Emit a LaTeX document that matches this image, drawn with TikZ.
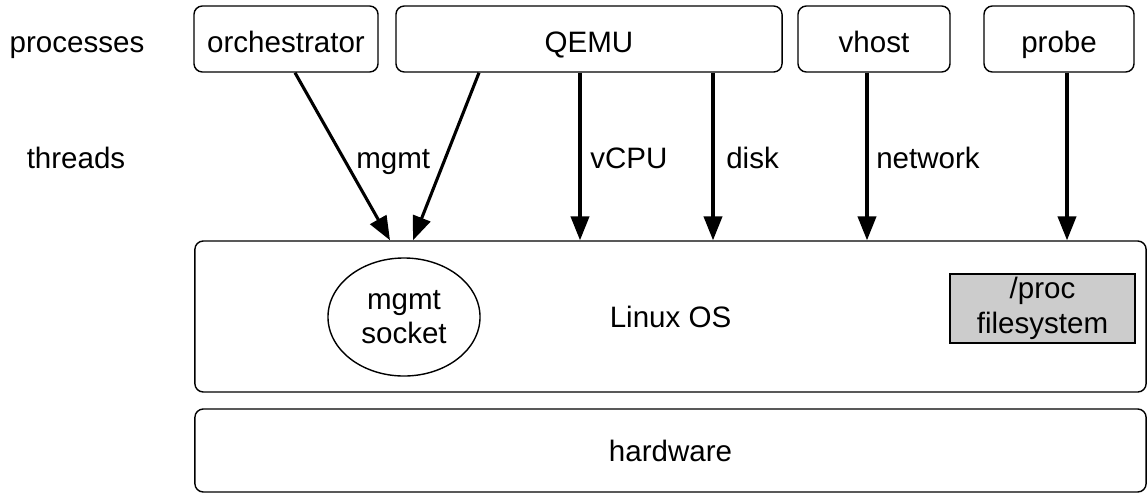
\documentclass[tikz,border=0pt]{standalone}
\usepackage{fontspec}
\setmainfont{Liberation Sans}
\usetikzlibrary{shapes.geometric,arrows.meta}

\begin{document}
\begin{tikzpicture}[x=0.025cm,y=-0.025cm,
    txt/.style={font=\fontsize{21pt}{24pt}\selectfont},
    process/.style={txt,draw,line width=1pt,rounded corners=6pt,minimum height=1.65cm,
                    text height=19pt,text depth=0pt},
    layer/.style={txt,draw,line width=1pt,rounded corners=6pt,minimum width=23.775cm},
    thread/.style={txt,anchor=base west,inner sep=0pt},
    link/.style={line width=2.2pt,-{Triangle[length=17pt,width=13pt]}}]
  \useasboundingbox (0,0) rectangle (1148,494);

  \node[txt,anchor=base] (procs) at (77,52) {processes};
  \node[txt,anchor=base] (threads) at (76,168) {threads};

  \node[process,minimum width=4.6cm] (orch) at (286,39) {orchestrator};
  \node[process,minimum width=9.65cm] (qemu) at (589,39) {QEMU};
  \node[process,minimum width=3.8cm] (vhost) at (874,39) {vhost};
  \node[process,minimum width=3.75cm] (probe) at (1059,39) {probe};

  \node[layer,minimum height=3.775cm] (linux) at (670.5,316.5) {Linux OS};
  \node[layer,minimum height=2.075cm] (hw) at (670.5,450.5) {hardware};
  \node[txt,draw,line width=1pt,ellipse,minimum width=3.8cm,minimum height=2.95cm,
        align=center,inner sep=0pt] (socket) at (404,317) {mgmt\\socket};
  \node[txt,draw,line width=1pt,fill=gray!40,minimum width=4.625cm,minimum height=1.725cm,
        align=center,inner sep=0pt,font=\fontsize{21pt}{25pt}\selectfont] (procfs) at (1042.5,308.5) {/proc\\filesystem};

  \draw[link] (orch.south -| 295,0) -- (linux.north -| 390,0);
  \draw[link] (qemu.south -| 479,0) -- (linux.north -| 413,0);
  \draw[link] (qemu.south -| 580,0) -- (linux.north -| 580,0);
  \draw[link] (qemu.south -| 713,0) -- (linux.north -| 713,0);
  \draw[link] (vhost.south -| 867,0) -- (linux.north -| 867,0);
  \draw[link] (probe.south -| 1067,0) -- (linux.north -| 1067,0);

  \node[thread] (mgmtlbl) at (356,168) {mgmt};
  \node[thread] (vcpulbl) at (590,168) {vCPU};
  \node[thread] (disklbl) at (726,168) {disk};
  \node[thread] (netlbl) at (876,168) {network};
\end{tikzpicture}
\end{document}
